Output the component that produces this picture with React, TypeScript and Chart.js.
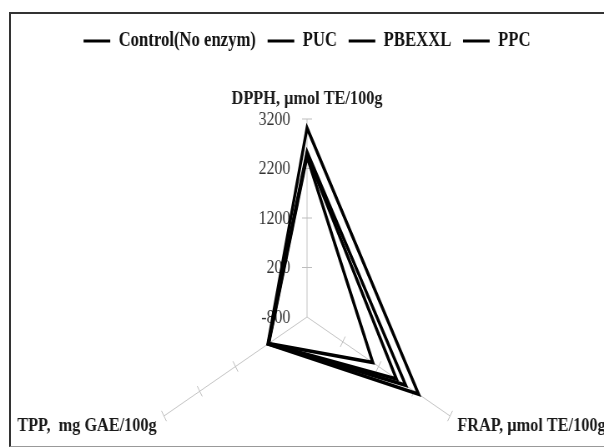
import React, { useEffect, useRef } from 'react';
import { Chart, registerables } from 'chart.js';

Chart.register(...registerables);

const axisLabels = ['DPPH, µmol TE/100g', 'FRAP, µmol TE/100g', 'TPP,  mg GAE/100g'];
const seriesNames = ['Control(No enzym)', 'PUC', 'PBEXXL', 'PPC'];
const controlValues = [2440, 1040, 270];
const pucValues = [2490, 1700, 280];
const pbexxlValues = [2540, 1960, 285];
const ppcValues = [3020, 2320, 295];
const tickValues = [-800, 200, 1200, 2200, 3200];

const seriesValues = [controlValues, pucValues, pbexxlValues, ppcValues];

const decorPlugin = {
  id: 'decor',
  beforeDatasetsDraw(chart: any) {
    const scale = chart.scales.r;
    const ctx = chart.ctx;
    const n = chart.data.labels.length;
    ctx.save();
    // tick marks across each axis
    ctx.strokeStyle = '#bdbdbd';
    ctx.lineWidth = 1;
    for (let i = 0; i < n; i++) {
      const ang = scale.getIndexAngle(i) - Math.PI / 2;
      const px = Math.cos(ang + Math.PI / 2);
      const py = Math.sin(ang + Math.PI / 2);
      scale.ticks.forEach((t: any, k: number) => {
        if (k === 0) return;
        const d = scale.getDistanceFromCenterForValue(t.value);
        const p = scale.getPointPosition(i, d);
        ctx.beginPath();
        ctx.moveTo(p.x - px * 6, p.y - py * 6);
        ctx.lineTo(p.x + px * 6, p.y + py * 6);
        ctx.stroke();
      });
    }
    // tick labels on first axis
    ctx.font = '19px "Liberation Serif"';
    ctx.fillStyle = '#333';
    ctx.textAlign = 'right';
    ctx.textBaseline = 'middle';
    scale.ticks.forEach((t: any) => {
      const d = scale.getDistanceFromCenterForValue(t.value);
      const p = scale.getPointPosition(0, d);
      ctx.fillText(String(t.value), p.x - 20, p.y + 1);
    });
    // axis titles
    ctx.font = 'bold 19.5px "Liberation Serif"';
    ctx.fillStyle = '#1a1a1a';
    const outer = scale.getDistanceFromCenterForValue(scale.max);
    for (let i = 0; i < n; i++) {
      const ang = scale.getIndexAngle(i) - Math.PI / 2;
      const p = scale.getPointPosition(i, outer + 10);
      const c = Math.cos(ang);
      if (Math.abs(c) < 0.1) {
        ctx.textAlign = 'center';
        ctx.textBaseline = 'bottom';
        ctx.fillText(chart.data.labels[i], p.x, p.y);
      } else {
        ctx.textAlign = c > 0 ? 'left' : 'right';
        ctx.textBaseline = 'middle';
        ctx.fillText(chart.data.labels[i], p.x, p.y + 5);
      }
    }
    ctx.restore();
  },
};

export default function App() {
  const ref = useRef<HTMLCanvasElement>(null);
  useEffect(() => {
    Chart.defaults.font.family = '"Liberation Serif"';
    const chart = new Chart(ref.current as HTMLCanvasElement, {
      type: 'radar',
      data: {
        labels: axisLabels,
        datasets: seriesNames.map((name, i) => ({
          label: name,
          data: seriesValues[i],
          borderColor: '#000',
          backgroundColor: '#000',
          borderWidth: 3.5,
          fill: false,
          pointRadius: 0,
          pointHoverRadius: 0,
          tension: 0,
        })),
      },
      options: {
        responsive: false,
        animation: false,
        layout: { padding: { top: 17, left: 68, right: 56, bottom: 4 } },
        plugins: {
          tooltip: { enabled: false },
          legend: {
            position: 'top',
            weight: 1000,
            labels: {
              color: '#111',
              font: { family: '"Liberation Serif"', size: 20, weight: 'bold' },
              boxWidth: 32,
              boxHeight: 3,
              padding: 14,
              generateLabels: (c: any) =>
                (Chart.defaults.plugins.legend.labels as any)
                  .generateLabels(c)
                  .map((l: any) => ({ ...l, lineWidth: 0, fillStyle: '#000' })),
            },
          },
          title: {
            display: true,
            text: '',
            position: 'top',
            weight: 500,
            font: { size: 10 },
            padding: { top: 46, bottom: 0 },
          },
        },
        scales: {
          r: {
            min: tickValues[0],
            max: tickValues[tickValues.length - 1],
            ticks: { stepSize: tickValues[1] - tickValues[0], display: false },
            grid: { display: false },
            angleLines: { display: true, color: '#c4c4c4', lineWidth: 1 },
            pointLabels: { display: false },
          },
        },
      },
      plugins: [decorPlugin],
    } as any);
    return () => chart.destroy();
  }, []);

  return (
    <div
      style={{
        position: 'absolute',
        left: 0,
        top: 0,
        width: 604,
        height: 448,
        overflow: 'hidden',
        background: '#fff',
      }}
    >
      <div
        style={{
          position: 'absolute',
          left: 9,
          top: 12,
          width: 620,
          height: 435,
          boxSizing: 'border-box',
          borderLeft: '2px solid #333',
          borderTop: '2px solid #333',
          borderBottom: '1px solid #999',
        }}
      />
      <canvas
        ref={ref}
        width={724}
        height={520}
        style={{ position: 'absolute', left: 0, top: 0, width: '604px', height: '520px' }}
      />
    </div>
  );
}
